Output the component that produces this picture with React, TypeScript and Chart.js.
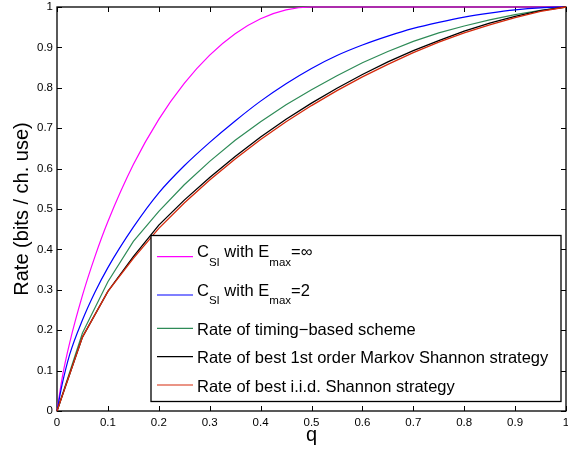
import React, { useEffect, useRef } from "react";
import { Chart, registerables } from "chart.js";

Chart.register(...registerables);

// q grid for the smooth curves (C_SI)
const qSmooth = [0, 0.01, 0.025, 0.05, 0.075, 0.1, 0.15, 0.2, 0.25, 0.3, 0.35, 0.4, 0.45, 0.5, 0.55, 0.6, 0.65, 0.7, 0.75, 0.8, 0.85, 0.9, 0.95, 1];
// q grid for the computed strategies
const qCoarse = [0, 0.05, 0.1, 0.15, 0.2, 0.25, 0.3, 0.35, 0.4, 0.45, 0.5, 0.55, 0.6, 0.65, 0.7, 0.75, 0.8, 0.85, 0.9, 0.95, 1];

const csiInf = [0, 0.081, 0.169, 0.286, 0.384, 0.469, 0.61, 0.722, 0.811, 0.881, 0.934, 0.971, 0.993, 1, 1, 1, 1, 1, 1, 1, 1, 1, 1, 1];
const csiE2 = [0, 0.065, 0.14, 0.225, 0.295, 0.355, 0.455, 0.54, 0.607, 0.665, 0.718, 0.767, 0.81, 0.848, 0.88, 0.906, 0.928, 0.947, 0.962, 0.975, 0.985, 0.993, 0.998, 1];
const timingRate = [0, 0.193, 0.32, 0.42, 0.494, 0.56, 0.618, 0.67, 0.716, 0.758, 0.795, 0.83, 0.862, 0.89, 0.915, 0.936, 0.953, 0.968, 0.981, 0.992, 1];
const markovRate = [0, 0.183, 0.296, 0.382, 0.46, 0.522, 0.578, 0.63, 0.678, 0.722, 0.762, 0.799, 0.833, 0.864, 0.892, 0.917, 0.94, 0.96, 0.977, 0.991, 1];
const iidRate = [0, 0.183, 0.296, 0.378, 0.452, 0.515, 0.572, 0.624, 0.672, 0.716, 0.756, 0.793, 0.827, 0.858, 0.887, 0.913, 0.936, 0.956, 0.974, 0.989, 1];

const tickValues = [0, 0.1, 0.2, 0.3, 0.4, 0.5, 0.6, 0.7, 0.8, 0.9, 1];

type Seg = { t: string; sub?: boolean };
const legendLabels: Seg[][] = [
  [{ t: "C" }, { t: "SI", sub: true }, { t: " with E" }, { t: "max", sub: true }, { t: "=∞" }],
  [{ t: "C" }, { t: "SI", sub: true }, { t: " with E" }, { t: "max", sub: true }, { t: "=2" }],
  [{ t: "Rate of timing−based scheme" }],
  [{ t: "Rate of best 1st order Markov Shannon strategy" }],
  [{ t: "Rate of best i.i.d. Shannon strategy" }],
];

const COLORS = ["#ff00ff", "#0000ff", "#2e8b57", "#000000", "#d62a0c"];
const FONT = '"Liberation Sans", Arial, Helvetica, sans-serif';

const toXY = (xs: number[], ys: number[]) => xs.map((x, i) => ({ x, y: ys[i] }));

const framePlugin = {
  id: "frame",
  beforeDatasetsDraw(chart: any) {
    const { ctx, chartArea: a, scales } = chart;
    ctx.save();
    ctx.strokeStyle = "#000";
    ctx.lineWidth = 1;
    ctx.beginPath();
    const L = 5;
    tickValues.forEach((v) => {
      const px = Math.round(scales.x.getPixelForValue(v)) + 0.5;
      ctx.moveTo(px, a.bottom);
      ctx.lineTo(px, a.bottom - L);
      ctx.moveTo(px, a.top);
      ctx.lineTo(px, a.top + L);
      const py = Math.round(scales.y.getPixelForValue(v)) + 0.5;
      ctx.moveTo(a.left, py);
      ctx.lineTo(a.left + L, py);
      ctx.moveTo(a.right, py);
      ctx.lineTo(a.right - L, py);
    });
    ctx.stroke();
    ctx.lineWidth = 1.3;
    ctx.strokeRect(a.left, a.top, a.right - a.left, a.bottom - a.top);
    ctx.restore();
  },
  afterDatasetsDraw(chart: any) {
    const { ctx } = chart;
    ctx.save();
    const bx = 151, by = 235.5, bw = 410, bh = 166;
    ctx.fillStyle = "#fff";
    ctx.fillRect(bx, by, bw, bh);
    ctx.strokeStyle = "#000";
    ctx.lineWidth = 1.3;
    ctx.strokeRect(bx, by, bw, bh);
    const rowY = [256.7, 295, 328.3, 356.7, 385];
    legendLabels.forEach((segs, i) => {
      const y = rowY[i];
      ctx.strokeStyle = COLORS[i];
      ctx.lineWidth = 1.2;
      ctx.beginPath();
      ctx.moveTo(157, y);
      ctx.lineTo(193, y);
      ctx.stroke();
      const hasSub = segs.some((s) => s.sub);
      const base = hasSub ? y + 0.5 : y + 6.5;
      let x = 197;
      ctx.fillStyle = "#000";
      ctx.textBaseline = "alphabetic";
      ctx.textAlign = "left";
      segs.forEach((s) => {
        ctx.font = s.sub ? `11.5px ${FONT}` : `16.5px ${FONT}`;
        ctx.fillText(s.t, x, s.sub ? base + 8.5 : base);
        x += ctx.measureText(s.t).width;
      });
    });
    ctx.restore();
  },
};

const zeroPad = (s: any) => {
  s.paddingLeft = 0;
  s.paddingRight = 0;
  s.paddingTop = 0;
  s.paddingBottom = 0;
};

export default function App() {
  const ref = useRef<HTMLCanvasElement | null>(null);
  useEffect(() => {
    document.body.style.margin = "0";
    if (!ref.current) return;
    const names = ["C_SI Emax=inf", "C_SI Emax=2", "timing", "markov", "iid"];
    const series = [
      toXY(qSmooth, csiInf),
      toXY(qSmooth, csiE2),
      toXY(qCoarse, timingRate),
      toXY(qCoarse, markovRate),
      toXY(qCoarse, iidRate),
    ];
    const orders = [4, 3, 2, 1, 0];
    const chart = new Chart(ref.current, {
      type: "line",
      data: {
        datasets: series.map((d, i) => ({
          label: names[i],
          data: d,
          borderColor: COLORS[i],
          backgroundColor: COLORS[i],
          borderWidth: i >= 3 ? 1.3 : 1.2,
          pointRadius: 0,
          tension: 0,
          cubicInterpolationMode: i < 2 ? "monotone" : "default",
          fill: false,
          clip: false as any,
          order: orders[i],
        })),
      },
      plugins: [framePlugin],
      options: {
        animation: false,
        responsive: false,
        devicePixelRatio: 1,
        layout: { padding: { top: 7, right: 2, left: 0, bottom: 0 } },
        plugins: { legend: { display: false }, tooltip: { enabled: false } },
        scales: {
          x: {
            type: "linear",
            min: 0,
            max: 1,
            grid: { display: false, drawTicks: false, tickLength: 0 },
            border: { display: false },
            afterFit: (s: any) => { s.height = 40; zeroPad(s); },
            afterBuildTicks: (s: any) => { s.ticks = tickValues.map((v) => ({ value: v })); },
            ticks: {
              autoSkip: false,
              maxRotation: 0,
              padding: 5,
              color: "#000",
              font: { family: FONT, size: 11.5 },
              callback: (v: any) => String(Math.round(Number(v) * 10) / 10),
            },
            title: { display: true, text: "q", color: "#000", font: { family: FONT, size: 20 }, padding: { top: 0, bottom: 4 } },
          },
          y: {
            type: "linear",
            min: 0,
            max: 1,
            grid: { display: false, drawTicks: false, tickLength: 0 },
            border: { display: false },
            afterFit: (s: any) => { s.width = 57; zeroPad(s); },
            afterBuildTicks: (s: any) => { s.ticks = tickValues.map((v) => ({ value: v })); },
            ticks: {
              autoSkip: false,
              padding: 4,
              color: "#000",
              font: { family: FONT, size: 11.5 },
              callback: (v: any) => String(Math.round(Number(v) * 10) / 10),
            },
            title: { display: true, text: "Rate (bits / ch. use)", color: "#000", font: { family: FONT, size: 20 }, padding: { top: 10, bottom: 0 } },
          },
        },
      },
    });
    return () => chart.destroy();
  }, []);
  return <canvas ref={ref} width={568} height={451} style={{ display: "block", width: 568, height: 451 }} />;
}
